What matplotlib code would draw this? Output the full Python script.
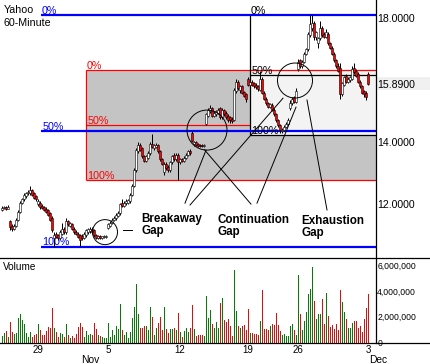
import matplotlib
matplotlib.use("Agg")
import matplotlib.pyplot as plt
import matplotlib.transforms as mtransforms
from matplotlib import font_manager
from matplotlib.patches import Rectangle, Ellipse
from matplotlib.lines import Line2D
import numpy as np

# ---------------- data ----------------
opens = [11.80, 11.88, 11.92, 11.85, 11.45, 11.30, 11.20, 11.30, 11.50, 11.75,
         12.05, 12.15, 12.25, 12.35, 12.35, 12.45, 12.35, 12.25, 12.00, 12.05,
         11.95, 11.90, 11.85, 11.80, 11.70, 11.55, 10.90, 11.05, 11.00, 10.92,
         11.05, 11.20, 11.10, 11.45, 11.30, 11.35, 11.20, 11.10, 11.05, 11.00,
         10.98, 10.90, 11.00, 11.10, 11.12, 11.20, 11.15, 11.00, 10.92, 10.97,
         10.92, 10.94, 10.95, 11.22, 11.30, 11.38, 11.48, 11.55, 11.62, 11.70,
         12.05, 11.95, 12.02, 12.05, 12.10, 12.28, 12.60, 13.10, 13.70, 13.90,
         13.80, 13.55, 13.40, 13.50, 13.65, 13.95, 13.80, 13.85, 13.90, 13.70,
         13.45, 13.05, 13.30, 13.20, 13.10, 13.35, 13.60, 13.45, 13.60, 13.35,
         13.45, 13.40, 13.50, 13.58, 13.72, 14.30, 13.95, 14.00, 13.95, 13.92,
         13.92, 13.87, 14.60, 14.85, 15.00, 15.10, 14.85, 14.90, 14.95, 15.10,
         14.80, 15.05, 14.95, 14.85, 14.80, 14.75, 14.70, 15.65, 15.95, 15.70,
         15.80, 15.62, 15.55, 16.05, 15.85, 15.95, 15.90, 15.85, 15.80, 15.70,
         16.05, 15.60, 15.40, 15.25, 15.15, 15.20, 15.05, 14.90, 14.70, 14.55,
         14.35, 14.40, 14.48, 14.58, 15.10, 15.25, 15.45, 15.30, 16.35, 16.65,
         16.45, 16.60, 16.85, 17.00, 17.45, 17.70, 17.85, 17.40, 17.20, 17.35,
         17.70, 17.50, 17.40, 17.50, 17.20, 17.05, 16.85, 16.65, 16.45, 16.40,
         15.55, 15.85, 16.15, 15.95, 16.00, 16.05, 16.40, 16.30, 16.20, 15.95,
         15.80, 15.65, 15.60, 16.20]
highs = [11.93, 11.95, 11.95, 11.98, 11.50, 11.35, 11.35, 11.55, 11.80, 12.10,
         12.20, 12.35, 12.40, 12.45, 12.60, 12.50, 12.40, 12.30, 12.15, 12.10,
         12.00, 11.95, 11.90, 11.85, 11.75, 11.60, 11.10, 11.10, 11.05, 11.15,
         11.40, 11.25, 11.55, 11.50, 11.42, 11.40, 11.25, 11.15, 11.10, 11.05,
         11.02, 11.10, 11.20, 11.22, 11.25, 11.25, 11.18, 11.03, 11.00, 11.00,
         10.98, 11.00, 11.00, 11.40, 11.45, 11.55, 11.60, 11.70, 11.78, 12.05,
         12.15, 12.10, 12.15, 12.18, 12.35, 12.65, 13.15, 13.80, 14.00, 13.98,
         13.85, 13.60, 13.60, 13.70, 14.00, 14.25, 13.95, 13.98, 13.95, 13.75,
         13.50, 13.35, 13.35, 13.25, 13.40, 13.60, 13.65, 13.65, 13.65, 13.50,
         13.50, 13.55, 13.65, 13.75, 13.78, 14.35, 14.05, 14.03, 13.98, 13.95,
         13.95, 13.95, 14.95, 15.10, 15.20, 15.15, 15.00, 15.05, 15.10, 15.15,
         15.10, 15.08, 15.00, 14.90, 14.85, 14.80, 15.75, 16.05, 16.00, 15.85,
         15.85, 15.65, 15.60, 16.10, 16.00, 16.00, 15.95, 15.90, 15.85, 16.30,
         16.10, 15.65, 15.45, 15.30, 15.25, 15.25, 15.10, 14.95, 14.75, 14.60,
         14.45, 14.55, 14.65, 14.78, 15.35, 15.45, 15.50, 15.75, 16.70, 16.70,
         16.65, 16.90, 17.05, 17.55, 18.10, 18.10, 17.90, 17.60, 17.40, 17.90,
         17.75, 17.55, 17.65, 17.55, 17.25, 17.10, 16.90, 16.70, 16.55, 16.55,
         15.95, 16.15, 16.20, 16.10, 16.15, 16.45, 16.55, 16.35, 16.25, 16.00,
         15.85, 15.70, 15.65, 16.28]
lows = [11.78, 11.85, 11.82, 11.83, 11.15, 11.12, 11.15, 11.25, 11.45, 11.70,
        12.00, 12.10, 12.20, 12.30, 12.30, 12.25, 12.15, 12.10, 11.95, 11.85,
        11.85, 11.78, 11.70, 11.60, 11.45, 11.10, 10.62, 10.90, 10.85, 10.88,
        11.00, 11.05, 11.05, 11.30, 11.25, 11.15, 11.05, 11.00, 10.90, 10.65,
        10.85, 10.88, 10.95, 11.05, 11.08, 11.05, 10.95, 10.88, 10.88, 10.88,
        10.88, 10.90, 10.90, 11.18, 11.25, 11.35, 11.45, 11.50, 11.58, 11.65,
        11.90, 11.90, 11.98, 12.00, 12.05, 12.25, 12.55, 13.05, 13.65, 13.70,
        13.50, 13.35, 13.35, 13.45, 13.60, 13.80, 13.75, 13.80, 13.65, 13.40,
        13.25, 12.95, 13.10, 13.05, 13.05, 13.30, 13.40, 13.40, 12.78, 13.30,
        13.35, 13.35, 13.45, 13.55, 13.60, 14.00, 13.88, 13.88, 13.85, 13.85,
        13.84, 13.85, 14.55, 14.80, 14.95, 14.80, 14.80, 14.85, 14.90, 14.75,
        14.75, 14.85, 14.75, 14.65, 14.62, 14.62, 14.68, 15.60, 15.70, 15.60,
        15.55, 15.45, 15.30, 15.80, 15.80, 15.80, 15.75, 15.72, 15.65, 15.65,
        15.55, 15.35, 15.20, 15.10, 15.10, 15.00, 14.85, 14.65, 14.50, 14.30,
        14.28, 14.35, 14.45, 14.55, 15.05, 15.20, 15.25, 15.25, 16.30, 16.40,
        16.40, 16.55, 16.80, 16.95, 17.40, 17.60, 17.30, 17.30, 17.05, 17.30,
        17.40, 17.35, 17.35, 17.15, 17.00, 16.80, 16.60, 16.40, 16.25, 15.40,
        15.50, 15.80, 15.90, 15.90, 15.95, 16.00, 16.20, 16.10, 15.90, 15.75,
        15.55, 15.45, 15.35, 15.84]
closes = [11.88, 11.92, 11.85, 11.90, 11.25, 11.20, 11.30, 11.50, 11.75, 12.05,
          12.15, 12.30, 12.35, 12.40, 12.45, 12.30, 12.20, 12.15, 12.10, 11.90,
          11.88, 11.82, 11.75, 11.65, 11.50, 11.15, 11.00, 10.95, 10.92, 11.10,
          11.20, 11.10, 11.45, 11.35, 11.38, 11.20, 11.10, 11.05, 10.95, 10.85,
          10.90, 11.05, 11.15, 11.18, 11.20, 11.10, 11.00, 10.92, 10.97, 10.92,
          10.96, 10.97, 10.98, 11.35, 11.40, 11.50, 11.55, 11.65, 11.72, 12.00,
          11.95, 12.05, 12.10, 12.12, 12.30, 12.60, 13.10, 13.75, 13.90, 13.75,
          13.55, 13.40, 13.55, 13.65, 13.95, 13.85, 13.90, 13.92, 13.70, 13.45,
          13.30, 13.30, 13.15, 13.10, 13.35, 13.55, 13.45, 13.60, 13.35, 13.45,
          13.40, 13.50, 13.60, 13.70, 13.65, 14.05, 14.02, 13.92, 13.88, 13.88,
          13.87, 13.92, 14.90, 15.05, 15.10, 14.85, 14.95, 15.00, 15.05, 14.80,
          15.05, 14.90, 14.80, 14.70, 14.70, 14.68, 15.70, 15.95, 15.75, 15.80,
          15.60, 15.50, 15.40, 15.85, 15.95, 15.85, 15.80, 15.78, 15.72, 16.05,
          15.60, 15.40, 15.25, 15.15, 15.22, 15.05, 14.90, 14.70, 14.55, 14.40,
          14.40, 14.50, 14.60, 14.72, 15.25, 15.40, 15.30, 15.65, 16.60, 16.45,
          16.60, 16.85, 17.00, 17.50, 17.80, 17.85, 17.40, 17.55, 17.35, 17.70,
          17.45, 17.40, 17.55, 17.20, 17.05, 16.85, 16.65, 16.45, 16.30, 15.55,
          15.90, 16.10, 15.95, 16.05, 16.10, 16.35, 16.25, 16.15, 15.95, 15.80,
          15.60, 15.55, 15.45, 15.89]
volumes_m = [0.51, 0.77, 0.89, 0.45, 1.62, 0.84, 0.66, 0.77, 1.88, 2.22,
             1.75, 1.41, 0.77, 0.45, 0.79, 0.45, 0.58, 0.66, 1.44, 0.97,
             0.58, 0.58, 0.92, 1.23, 1.10, 2.66, 1.10, 0.84, 0.40, 0.77,
             0.66, 0.40, 1.44, 0.58, 0.32, 0.51, 0.32, 0.66, 1.23, 1.54,
             1.23, 0.45, 0.89, 0.58, 0.66, 0.58, 1.49, 1.05, 0.58, 0.51,
             0.45, 0.38, 0.38, 1.54, 0.45, 0.97, 0.58, 1.28, 1.05, 3.00,
             0.97, 0.58, 0.84, 0.32, 0.84, 1.93, 2.79, 4.55, 2.19, 1.15,
             1.15, 1.31, 1.28, 0.97, 2.79, 2.01, 0.58, 1.10, 1.54, 2.01,
             0.97, 2.79, 1.05, 0.71, 1.05, 1.05, 1.15, 0.97, 2.27, 0.84,
             0.45, 0.89, 1.10, 0.79, 1.10, 2.92, 1.02, 0.51, 0.58, 0.58,
             0.58, 0.51, 3.62, 1.88, 2.53, 1.44, 1.15, 1.62, 1.15, 3.10,
             3.49, 1.75, 1.62, 1.83, 1.28, 0.53, 5.67, 2.45, 1.28, 1.15,
             1.28, 1.39, 0.97, 2.61, 0.77, 0.77, 0.66, 0.66, 0.58, 1.67,
             4.09, 1.05, 1.05, 0.97, 1.31, 1.44, 1.39, 2.27, 1.36, 0.89,
             0.58, 0.66, 0.51, 0.51, 1.28, 1.44, 0.97, 0.58, 5.25, 2.19,
             0.97, 1.70, 2.35, 3.75, 4.16, 5.85, 3.26, 1.83, 2.19, 2.24,
             3.39, 1.41, 3.88, 2.06, 1.23, 1.36, 1.05, 1.44, 0.97, 4.09,
             3.18, 2.40, 1.80, 1.15, 1.15, 1.49, 1.70, 1.67, 1.15, 1.31,
             0.84, 1.80, 2.71, 3.77]

title_lines = ["Yahoo", "60-Minute"]
day_ticks = [18, 53, 89, 123, 148, 183]
day_labels = ["29", "5", "12", "19", "26", "3"]
month_ticks = [39, 183]
month_labels = ["Nov", "Dec"]
price_ticks = [12.0, 14.0, 18.0]
volume_ticks = [0, 2_000_000, 4_000_000, 6_000_000]
last_price = 15.89

# retracement grids: (price at 0%, price at 100%), start bar
blue_levels = (18.10, 10.62)
red_levels = (16.32, 12.775)
black_levels = (18.10, 14.23)
blue_start, red_start, black_start = 19.5, 42.0, 124.0

gap_labels = ["Breakaway", "Continuation", "Exhaustion"]

# ---------------- fonts ----------------
names = {f.name for f in font_manager.fontManager.ttflist}
if "Liberation Sans Narrow" in names:
    FONT, SC = "Liberation Sans Narrow", 1.0
else:
    FONT, SC = "Liberation Sans", 0.82
BOLD = "Liberation Sans"

# ---------------- figure layout (pixels) ----------------
W, H = 430, 364
PR, SEP, BOT = 375.5, 258.3, 343.3
fig = plt.figure(figsize=(W / 100, H / 100), dpi=100)
ax = fig.add_axes([0, 1 - SEP / H, PR / W, SEP / H])
axv = fig.add_axes([0, 1 - BOT / H, PR / W, (BOT - SEP) / H], sharex=ax)

o = np.array(opens); h = np.array(highs); l = np.array(lows); c = np.array(closes)
idx = np.arange(len(c))
up = c >= o

XMAX = -1 + PR / 2
ax.set_xlim(-1, XMAX)
ax.set_ylim(10.25, 18.59)
axv.set_ylim(-0.06e6, 6.55e6)
ux = (XMAX + 1) / PR
uy = (18.59 - 10.25) / SEP

for a in (ax, axv):
    for s in a.spines.values():
        s.set_visible(False)
    a.set_facecolor("none")

# ---- retracement boxes ----
ax.add_patch(Rectangle((red_start, red_levels[1]), XMAX - red_start,
                       red_levels[0] - red_levels[1], facecolor="#c4c4c4",
                       edgecolor="none", zorder=0.5))
ax.add_patch(Rectangle((black_start, black_levels[1]), XMAX - black_start,
                       red_levels[0] - black_levels[1], facecolor="#f3f3f3",
                       edgecolor="none", zorder=0.6))
red_mid = (red_levels[0] + red_levels[1]) / 2
blue_mid = (blue_levels[0] + blue_levels[1]) / 2
black_mid = (black_levels[0] + black_levels[1]) / 2

ax.hlines(list(red_levels), red_start, XMAX, color="#ff0000", lw=0.9, zorder=2)
ax.hlines(red_mid, red_start, black_start, color="#ff0000", lw=0.9, zorder=2)
ax.vlines(red_start, red_levels[1], red_levels[0], color="#ff0000", lw=0.9, zorder=2)
ax.hlines([black_mid, black_levels[1]], black_start, XMAX, color="black", lw=0.9, zorder=2)
ax.vlines(black_start, black_levels[1], black_levels[0], color="black", lw=0.9, zorder=2)
ax.hlines([blue_levels[0], blue_mid, blue_levels[1]], blue_start, XMAX,
          color="#0000ff", lw=1.6, zorder=2.2)

def pct_labels(x0, levels, mid, color):
    for txt, y in zip(["0%", "50%", "100%"], [levels[0], mid, levels[1]]):
        ax.annotate(txt, (x0, y), xytext=(0.8, 1.0), textcoords="offset points",
                    va="baseline", ha="left", color=color, fontfamily=FONT,
                    fontsize=9.4 * SC, zorder=2.5)

pct_labels(blue_start, blue_levels, blue_mid, "#0000ff")
pct_labels(red_start, red_levels, red_mid, "#ff0000")
pct_labels(black_start, black_levels, black_mid, "black")

# ---- candles ----
ax.vlines(idx, l, h, color="black", lw=0.72, zorder=3)
body_h = np.maximum(np.abs(c - o), 0.025)
ax.bar(idx, body_h, bottom=np.minimum(o, c), width=0.8,
       color=np.where(up, "white", "#ff0000"), edgecolor="black",
       linewidth=0.4, zorder=4)

# ---- volume ----
axv.vlines(idx, 0, np.array(volumes_m) * 1e6, colors=np.where(up, "#008000", "#ff0000"),
           lw=0.72, antialiased=False)

# ---- axes ticks ----
ax.yaxis.tick_right()
ax.set_yticks(price_ticks)
ax.set_yticklabels([f"{p:.4f}" for p in price_ticks], fontfamily=FONT, fontsize=9.2 * SC)
ax.tick_params(axis="y", length=0, pad=1.3)
ax.tick_params(axis="x", length=0, labelbottom=False)
for t in ax.get_yticklabels():
    t.set_verticalalignment("center_baseline")

axv.yaxis.tick_right()
axv.set_yticks(volume_ticks)
axv.set_yticklabels([f"{v:,.0f}" for v in volume_ticks], fontfamily=FONT, fontsize=7.6 * SC)
axv.tick_params(axis="y", length=0, pad=1.3)
for t in axv.get_yticklabels():
    t.set_verticalalignment("center_baseline")
axv.set_xticks(day_ticks)
axv.set_xticklabels(day_labels, fontfamily=FONT, fontsize=8.6 * SC)
axv.tick_params(axis="x", length=0, pad=1.2)

mt = mtransforms.blended_transform_factory(axv.transData, fig.transFigure)
for x, lab in zip(month_ticks, month_labels):
    axv.text(x + 0.5, 1 - 363 / H, lab, transform=mt, ha="left", va="baseline",
             fontfamily=FONT, fontsize=9.0 * SC)

# last price box
yl = ax.transData.transform((0, last_price))[1]
fig.add_artist(Rectangle((PR / W, (yl - 6.6) / H), 1 - PR / W, 13.2 / H,
                         transform=fig.transFigure, facecolor="#f0f0f0",
                         edgecolor="none", zorder=1))
lt = mtransforms.blended_transform_factory(fig.transFigure, ax.transData)
fig.text(377.3 / W, last_price, f"{last_price:.4f}", transform=lt, ha="left",
         va="center_baseline", fontfamily=FONT, fontsize=9.2 * SC, zorder=2)

# frame lines
lk = dict(color="black", lw=0.9, transform=fig.transFigure)
fig.add_artist(Line2D([0, 1], [1 - SEP / H] * 2, **lk))
fig.add_artist(Line2D([0, 1], [1 - BOT / H] * 2, **lk))
fig.add_artist(Line2D([PR / W] * 2, [1 - BOT / H, 1], **lk))

# titles
fig.text(4 / W, 1 - 12.7 / H, title_lines[0], ha="left", va="baseline",
         fontfamily=FONT, fontsize=9.3 * SC)
fig.text(4 / W, 1 - 26 / H, title_lines[1], ha="left", va="baseline",
         fontfamily=FONT, fontsize=9.3 * SC)
fig.text(2.7 / W, 1 - 270 / H, "Volume", ha="left", va="baseline",
         fontfamily=FONT, fontsize=8.8 * SC)

# ---- gap circles ----
gap_circles = [(51.5, 11.095, 12.5), (102.5, 14.39, 20.0), (146.5, 15.99, 17.5)]
for cx, cy, r in gap_circles:
    ax.add_patch(Ellipse((cx, cy), 2 * r * ux, 2 * r * uy, facecolor="none",
                         edgecolor="black", lw=0.7, zorder=5))

# ---- gap annotations ----
label_pos = [(69.85, 11.428, 11.031), (107.85, 11.376, 10.998), (149.85, 11.354, 10.966)]
for name, (x, y1, y2) in zip(gap_labels, label_pos):
    ax.text(x, y1, name, ha="left", va="baseline", fontfamily=BOLD,
            fontweight="bold", fontsize=8.4, zorder=6)
    ax.text(x, y2, "Gap", ha="left", va="baseline", fontfamily=BOLD,
            fontweight="bold", fontsize=8.4, zorder=6)

leaders = [((60.5, 11.16), (65.0, 11.16)),
           ((91.5, 12.03), (102.0, 13.74)),
           ((94.0, 11.97), (140.5, 15.42)),
           ((124.5, 12.00), (101.3, 13.75)),
           ((127.5, 12.03), (147.0, 15.13)),
           ((162.5, 11.81), (152.5, 15.36))]
for (x1, y1), (x2, y2) in leaders:
    ax.plot([x1, x2], [y1, y2], color="black", lw=0.7, zorder=5)

fig.savefig("out.png", dpi=100)
